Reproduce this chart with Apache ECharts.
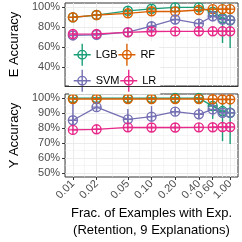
<!DOCTYPE html>
<html><head><meta charset="utf-8">
<script src="https://cdn.jsdelivr.net/npm/echarts@6/dist/echarts.min.js"></script>
<style>html,body{margin:0;padding:0;background:#fff}#c{width:242px;height:242px}</style>
</head><body><div id="c"></div>
<script>
// ---- data ----
const fracs = [0.01, 0.02, 0.05, 0.1, 0.2, 0.4, 0.6, 0.8, 1.0];
const xTickLabels = ['0.01','0.02','0.05','0.10','0.20','0.40','0.60','0.80','1.00'];
const xMinorBreaks = [0.01414, 0.03162, 0.07071, 0.1414, 0.2828, 0.4899, 0.6928, 0.8944, 1.118];
const models = ['LGB', 'RF', 'SVM', 'LR'];
const colors = ['#1B9E77', '#D95F02', '#7570B3', '#E7298A'];

// E Accuracy (top panel), percent
const E_LGB    = [89.5, 91.8, 96.0, 98.0, 99.4, 99.4, 95.0, 88.6, 86.5];
const E_LGB_lo = [88.5, 91.0, 95.0, 97.0, 98.8, 98.8, 90.0, 64.0, 59.0];
const E_LGB_hi = [90.5, 92.6, 97.0, 99.0, 100.0, 100.0, 100.0, 103.5, 103.5];
const E_RF     = [89.6, 91.8, 93.5, 95.5, 95.3, 96.8, 97.7, 97.7, 97.7];
const E_RF_lo  = [88.8, 91.0, 92.7, 94.7, 94.5, 96.0, 97.0, 97.0, 97.0];
const E_RF_hi  = [90.4, 92.6, 94.3, 96.3, 96.1, 97.6, 98.4, 98.4, 98.4];
const E_SVM    = [71.5, 72.2, 74.8, 80.7, 87.4, 83.2, 90.6, 87.4, 86.9];
const E_SVM_lo = [70.0, 71.0, 73.0, 74.0, 82.5, 78.5, 85.5, 84.0, 84.0];
const E_SVM_hi = [73.0, 73.5, 76.5, 85.5, 92.0, 88.0, 94.0, 91.0, 90.0];
const E_LR     = [72.9, 73.1, 74.6, 75.4, 75.5, 75.6, 75.6, 75.6, 75.6];
const E_LR_lo  = [71.9, 72.1, 73.6, 74.4, 74.5, 74.6, 74.6, 74.6, 74.6];
const E_LR_hi  = [73.9, 74.1, 75.6, 76.4, 76.5, 76.6, 76.6, 76.6, 76.6];

// Y Accuracy (bottom panel), percent
const Y_LGB    = [99.8, 99.8, 99.8, 99.8, 99.8, 99.8, 94.5, 91.2, 90.1];
const Y_LGB_lo = [99.5, 99.5, 99.5, 99.5, 99.5, 99.5, 86.0, 71.3, 69.3];
const Y_LGB_hi = [100.0, 100.0, 100.0, 100.0, 100.0, 100.0, 102.0, 102.0, 102.0];
const Y_RF     = [99.2, 99.2, 99.2, 99.2, 99.2, 99.2, 99.0, 98.9, 98.9];
const Y_RF_lo  = [98.8, 98.8, 98.8, 98.8, 98.8, 98.8, 98.6, 98.5, 98.5];
const Y_RF_hi  = [99.6, 99.6, 99.6, 99.6, 99.6, 99.6, 99.4, 99.3, 99.3];
const Y_SVM    = [85.1, 93.8, 85.7, 87.5, 90.8, 89.0, 92.3, 90.1, 90.1];
const Y_SVM_lo = [82.0, 92.0, 83.0, 84.0, 89.0, 85.7, 88.0, 88.5, 88.5];
const Y_SVM_hi = [96.0, 95.5, 92.5, 94.5, 92.5, 93.0, 95.5, 92.0, 92.0];
const Y_LR     = [78.7, 79.1, 80.4, 80.3, 80.3, 80.4, 80.5, 80.6, 80.6];
const Y_LR_lo  = [77.9, 78.3, 79.6, 79.5, 79.5, 79.6, 79.7, 79.8, 79.8];
const Y_LR_hi  = [79.5, 79.9, 81.2, 81.1, 81.1, 81.2, 81.3, 81.4, 81.4];

const topMajorY = [40, 60, 80, 100];
const topMinorY = [30, 50, 70, 90];
const botMajorY = [50, 60, 70, 80, 90, 100];
const botMinorY = [55, 65, 75, 85, 95];

// ---- chart ----
const panels = [
  {mean: [E_LGB, E_RF, E_SVM, E_LR], lo: [E_LGB_lo, E_RF_lo, E_SVM_lo, E_LR_lo], hi: [E_LGB_hi, E_RF_hi, E_SVM_hi, E_LR_hi], xi: 0, yi: 0},
  {mean: [Y_LGB, Y_RF, Y_SVM, Y_LR], lo: [Y_LGB_lo, Y_RF_lo, Y_SVM_lo, Y_LR_lo], hi: [Y_LGB_hi, Y_RF_hi, Y_SVM_hi, Y_LR_hi], xi: 3, yi: 2}
];

const XMIN = 0.00794, XMAX = 1.2589;
const FONT = 'Liberation Sans, Arial, Helvetica, sans-serif';
const GRIDC = '#EBEBEB';
const symPath = 'path://M0,10A10,10,0,1,1,20,10A10,10,0,1,1,0,10ZM10,0L10,20M0,10L20,10';
const legendIcon = 'path://M0,11L17,11M8.5,0L8.5,22M12.8,11A4.3,4.3,0,1,1,4.2,11A4.3,4.3,0,1,1,12.8,11';

function xAxisBase(grid) {
  return {type: 'log', gridIndex: grid, min: XMIN, max: XMAX, logBase: 10,
    axisLine: {show: false, onZero: false}, axisLabel: {show: false}, axisTick: {show: false},
    splitLine: {show: false}, minorTick: {show: false}, minorSplitLine: {show: false}};
}
function gridX(grid, vals, width) {
  const a = xAxisBase(grid);
  a.axisTick = {show: false, customValues: vals};
  a.axisLabel = {show: false, customValues: vals};
  a.splitLine = {show: true, lineStyle: {color: GRIDC, width: width}};
  return a;
}
function gridY(grid, min, max, vals, width) {
  return {type: 'value', gridIndex: grid, min: min, max: max,
    axisLine: {show: false, onZero: false}, axisLabel: {show: false, customValues: vals},
    axisTick: {show: false, customValues: vals},
    splitLine: {show: true, lineStyle: {color: GRIDC, width: width}}};
}

const xAxes = [];
xAxes.push(gridX(0, fracs, 1));          // 0 top major
xAxes.push(gridX(0, xMinorBreaks, 0.5)); // 1 top minor
const border = xAxisBase(0);              // 2 top panel bottom border (over legend)
border.position = 'bottom';
border.z = 6;
border.axisLine = {show: true, onZero: false, lineStyle: {color: '#333', width: 1}};
xAxes.push(border);
const bx = gridX(1, fracs, 1);            // 3 bottom major with labels
bx.axisTick = {show: true, customValues: fracs, length: 3, lineStyle: {color: '#333', width: 1}};
bx.axisLabel = {show: true, customValues: fracs, rotate: 45, margin: 5, fontSize: 11, color: '#4D4D4D', fontFamily: FONT,
  showMinLabel: true, showMaxLabel: true, hideOverlap: false,
  formatter: function (v) {
    const i = fracs.findIndex(f => Math.abs(Math.log(f / v)) < 1e-3);
    return i >= 0 ? xTickLabels[i] : '';
  }};
bx.name = 'Frac. of Examples with Exp.\n(Retention, 9 Explanations)';
bx.nameLocation = 'middle';
bx.nameGap = 28;
bx.nameTextStyle = {fontSize: 13, color: '#000', fontFamily: FONT, lineHeight: 17};
xAxes.push(bx);
xAxes.push(gridX(1, xMinorBreaks, 0.5)); // 4 bottom minor

function mainY(grid, min, max, vals, name) {
  const a = gridY(grid, min, max, vals, 1);
  a.axisTick = {show: true, customValues: vals, length: 3, lineStyle: {color: '#333', width: 1}};
  a.axisLabel = {show: true, customValues: vals, margin: 5, fontSize: 11, color: '#4D4D4D', fontFamily: FONT,
    showMinLabel: true, showMaxLabel: true, formatter: v => Math.round(v) + '%'};
  a.name = name;
  a.nameLocation = 'middle';
  a.nameGap = 35;
  a.nameTextStyle = {fontSize: 13, color: '#000', fontFamily: FONT};
  return a;
}
const yAxes = [
  mainY(0, 21.25, 103.75, topMajorY, 'E Accuracy'),
  gridY(0, 21.25, 103.75, topMinorY, 0.5),
  mainY(1, 47.5, 102.5, botMajorY, 'Y Accuracy'),
  gridY(1, 47.5, 102.5, botMinorY, 0.5)
];

const series = [];
panels.forEach(function (p) {
  models.forEach(function (m, k) {
    series.push({
      type: 'custom', name: m, xAxisIndex: p.xi, yAxisIndex: p.yi, z: 3,
      data: fracs.map((f, i) => [f, p.lo[k][i], p.hi[k][i]]),
      encode: {x: 0, y: [1, 2]},
      renderItem: function (params, api) {
        const a = api.coord([api.value(0), api.value(1)]);
        const b = api.coord([api.value(0), api.value(2)]);
        return {type: 'line', shape: {x1: a[0], y1: a[1], x2: b[0], y2: b[1]},
          style: {stroke: colors[k], lineWidth: 1.4}};
      }
    });
  });
  models.forEach(function (m, k) {
    series.push({
      type: 'line', name: m, xAxisIndex: p.xi, yAxisIndex: p.yi, z: 4,
      data: fracs.map((f, i) => [f, p.mean[k][i]]),
      symbol: symPath, symbolSize: 9, showSymbol: true,
      lineStyle: {color: colors[k], width: 1.3},
      itemStyle: {color: 'rgba(0,0,0,0)', borderColor: colors[k], borderWidth: 1.4},
      emphasis: {disabled: true}
    });
  });
});

function legendItem(k) {
  return {name: models[k], itemStyle: {color: 'rgba(0,0,0,0)', borderColor: colors[k], borderWidth: 1.4}};
}
function legendComp(items, top) {
  return {show: true, orient: 'horizontal', left: 69, top: top, padding: [2, 4, 2, 4], z: 5,
    backgroundColor: '#fff', itemWidth: 17, itemHeight: 22, itemGap: 0, icon: legendIcon,
    selectedMode: false, data: items.map(legendItem),
    textStyle: {fontSize: 11, color: '#000', fontFamily: FONT}};
}

const option = {
  animation: false,
  backgroundColor: '#fff',
  grid: [
    {left: 63, width: 175, top: 3, height: 83, show: true, borderColor: '#333', borderWidth: 1, backgroundColor: '#fff', containLabel: false},
    {left: 63, width: 175, top: 94, height: 83, show: true, borderColor: '#333', borderWidth: 1, backgroundColor: '#fff', containLabel: false}
  ],
  legend: [legendComp([0, 1], 41), legendComp([2, 3], 67)],
  xAxis: xAxes,
  yAxis: yAxes,
  series: series
};
const chart = echarts.init(document.getElementById('c'), null, {renderer: 'canvas'});
chart.setOption(option);
</script></body></html>
